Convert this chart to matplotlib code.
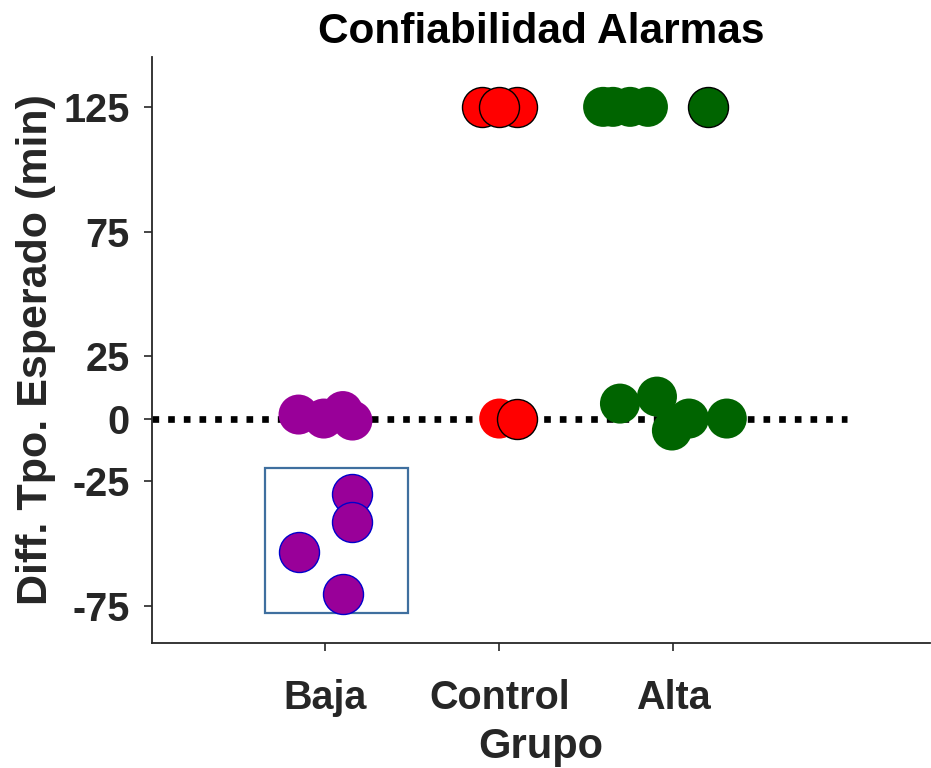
import matplotlib.pyplot as plt
from matplotlib.patches import Rectangle

groups = ['Baja', 'Control', 'Alta']
yticks = [-75, -25, 0, 25, 75, 125]

# Baja (purple)
baja_x = [0.845, 0.99, 1.10, 1.155]
baja_y = [1.6, 0.0, 3.0, -0.8]
baja_box_x = [1.15, 1.15, 0.85, 1.10]
baja_box_y = [-30.4, -41.6, -53.6, -70.4]

# Control (red)
control_x = [1.902, 2.103, 2.0]
control_y = [125, 125, 125]
control_low_x = [2.0]
control_low_y = [0.0]
control_edge_x = [2.103]
control_edge_y = [0.0]

# Alta (green)
alta_x = [2.598, 2.655, 2.753, 2.856, 2.695, 2.908, 2.994, 3.092, 3.310]
alta_y = [125, 125, 125, 125, 6.0, 8.8, -4.8, 0.0, 0.0]
alta_edge_x = [3.201]
alta_edge_y = [125]

purple = '#990099'
red = '#ff0000'
green = '#006400'
dark = '#262626'
s = 830

plt.rcParams['font.family'] = ['Liberation Sans', 'DejaVu Sans']
plt.rcParams['font.weight'] = 'bold'

fig = plt.figure(figsize=(9.31, 7.68), dpi=100)
ax = fig.add_axes([0.163, 0.1628, 0.836, 0.763])

ax.plot([0, 4], [0, 0], color='black', lw=4.8, linestyle=(0, (1, 1.35)),
        dash_capstyle='butt', zorder=1)

ax.add_patch(Rectangle((0.65, -78), 0.827, 58, fill=False, edgecolor='#3f6f9f',
                       lw=1.6, zorder=1))

ax.scatter(baja_x, baja_y, s=s, color=purple, edgecolors='none', zorder=2)
ax.scatter(baja_box_x, baja_box_y, s=s, color=purple, edgecolors='#0000cc',
           linewidths=1.0, zorder=2)
ax.scatter(control_x, control_y, s=s, color=red, edgecolors='black',
           linewidths=1.0, zorder=2)
ax.scatter(control_low_x, control_low_y, s=s, color=red, edgecolors='none', zorder=2)
ax.scatter(control_edge_x, control_edge_y, s=s, color=red, edgecolors='black',
           linewidths=1.0, zorder=3)
ax.scatter(alta_x, alta_y, s=s, color=green, edgecolors='none', zorder=2)
ax.scatter(alta_edge_x, alta_edge_y, s=s, color=green, edgecolors='black',
           linewidths=1.0, zorder=3)

ax.set_xlim(0, 4.48)
ax.set_ylim(-90, 145)
ax.set_xticks([1, 2, 3])
ax.set_xticklabels(groups)
ax.set_yticks(yticks)
ax.set_yticklabels([str(v) for v in yticks])

for side in ['top', 'right']:
    ax.spines[side].set_visible(False)
for side in ['left', 'bottom']:
    ax.spines[side].set_color(dark)
    ax.spines[side].set_linewidth(1.3)

ax.tick_params(direction='out', length=6, width=1.2, colors=dark,
               labelsize=28.5, pad=10)
ax.tick_params(axis='x', pad=20)

ax.set_xlabel('Grupo', fontsize=30, fontweight='bold', color=dark, labelpad=7)
ax.set_ylabel('Diff. Tpo. Esperado (min)', fontsize=31, fontweight='bold',
              color=dark, labelpad=5.5)
ax.set_title('Confiabilidad Alarmas', fontsize=30.5, fontweight='bold',
             color='black', pad=10)

fig.savefig('out.png', dpi=100)
